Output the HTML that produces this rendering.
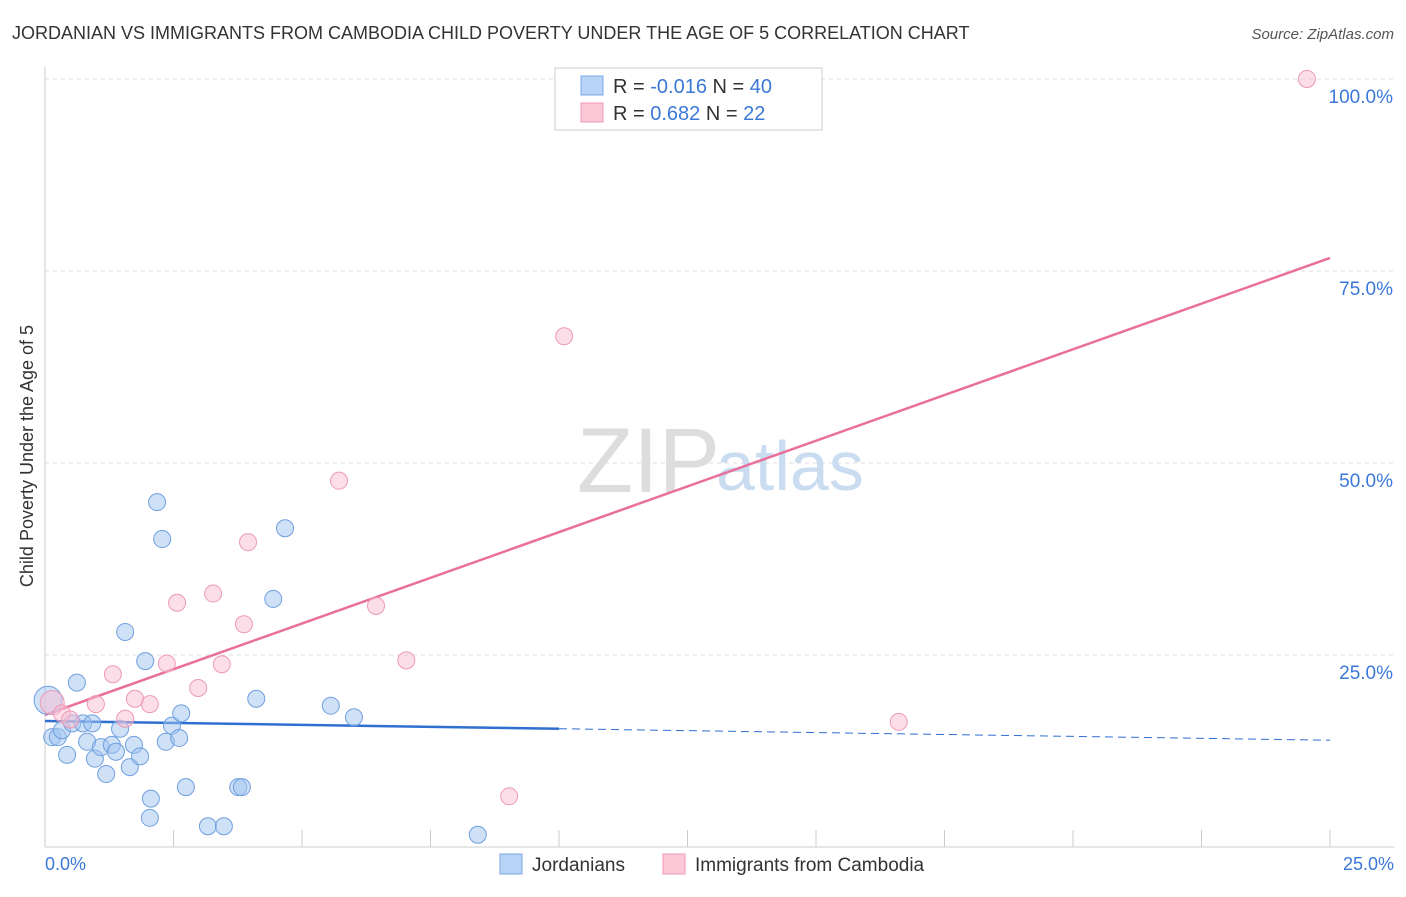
<!DOCTYPE html>
<html><head><meta charset="utf-8"><style>
body{margin:0;background:#fff;font-family:"Liberation Sans",sans-serif}
svg text{font-family:"Liberation Sans",sans-serif}
</style></head><body>
<svg width="1406" height="892" xmlns="http://www.w3.org/2000/svg">
<text x="12" y="39" font-size="18" fill="#333">JORDANIAN VS IMMIGRANTS FROM CAMBODIA CHILD POVERTY UNDER THE AGE OF 5 CORRELATION CHART</text>
<text x="1394" y="39" font-size="15" fill="#555" font-style="italic" text-anchor="end">Source: ZipAtlas.com</text>
<g id="grid"></g>
<text x="720" y="492" font-size="92" fill="#ddd" text-anchor="end" font-family="Liberation Serif">ZIP</text>
<text x="716" y="490" font-size="70" fill="#c9dcf0">atlas</text>
<line x1="45" y1="67" x2="45" y2="847" stroke="#ccc"/>
<line x1="45" y1="847" x2="1394" y2="847" stroke="#ccc"/>
<text x="33" y="456" font-size="18" fill="#333" text-anchor="middle" transform="rotate(-90 33 456)">Child Poverty Under the Age of 5</text>
<text x="45" y="870" font-size="18" fill="#3b78d8">0.0%</text>
<text x="1394" y="870" font-size="18" fill="#3b78d8" text-anchor="end">25.0%</text>
<g id="lines"></g>
<g id="points"></g>
<g>
<rect x="555" y="68" width="267" height="62" fill="#fff" stroke="#ccc"/>
<rect x="581" y="76" width="22" height="19" fill="#b7d3f5" stroke="#7aa8e4"/>
<rect x="581" y="103" width="22" height="19" fill="#fbc8d7" stroke="#ef9ab5"/>
<text x="613" y="93" font-size="20" fill="#333">R = <tspan fill="#3b78d8">-0.016</tspan>   N = <tspan fill="#3b78d8">40</tspan></text>
<text x="613" y="120" font-size="20" fill="#333">R =  <tspan fill="#3b78d8"> 0.682</tspan>   N =  <tspan fill="#3b78d8">22</tspan></text>
</g>
<g>
<rect x="500" y="854" width="22" height="20" fill="#b7d3f5" stroke="#7aa8e4"/>
<text x="532" y="871" font-size="19" fill="#333">Jordanians</text>
<rect x="663" y="854" width="22" height="20" fill="#fbc8d7" stroke="#ef9ab5"/>
<text x="695" y="871" font-size="19" fill="#333">Immigrants from Cambodia</text>
</g>
</svg>
<script>
const yTicks=[25,50,75,100];
const xTickCount=10;
const jorX=[0.06,0.14,0.25,0.33,0.43,0.53,0.62,0.74,0.82,0.92,0.97,1.09,1.19,1.30,1.38,1.46,1.56,1.65,1.73,1.85,1.95,2.06,2.04,2.18,2.28,2.35,2.47,2.61,2.65,2.74,3.17,3.48,3.76,3.83,4.11,4.44,4.67,5.56,6.01,8.42];
const jorY=[19.1,14.3,14.3,15.2,12.0,16.1,21.4,16.1,13.7,16.1,11.5,13.0,9.5,13.3,12.4,15.4,28.0,10.4,13.3,11.8,24.2,6.3,3.8,44.9,40.1,13.7,15.8,14.2,17.4,7.8,2.7,2.7,7.8,7.8,19.3,32.3,41.5,18.4,16.9,1.6];
const camX=[0.14,0.33,0.49,0.99,1.32,1.56,1.75,2.04,2.37,2.57,2.98,3.27,3.44,3.87,3.95,5.72,6.44,7.03,9.03,10.10,16.61,24.55];
const camY=[18.8,17.4,16.6,18.6,22.5,16.7,19.3,18.6,23.9,31.8,20.7,33.0,23.8,29.0,39.7,47.7,31.4,24.3,6.6,66.5,16.3,100];
const jorFit=[16.4,13.9];
const camFit=[17.2,76.7];
const NS="http://www.w3.org/2000/svg";
const xs=v=>45+v*(1285/25);
const ys=v=>847-v*7.68;
function mk(t,a,p){const e=document.createElementNS(NS,t);for(const k in a)e.setAttribute(k,a[k]);document.getElementById(p).appendChild(e);return e;}
yTicks.forEach(t=>{
 const l=mk('line',{x1:45,x2:1394,y1:ys(t),y2:ys(t),stroke:'#ddd','stroke-dasharray':'4,4'},'grid');
 
 
 const tx=mk('text',{x:1393,y:ys(t)+24,'font-size':19,fill:'#3b78d8','text-anchor':'end'},'grid');
 tx.textContent=t.toFixed(1)+'%';
 
 
});
for(let i=1;i<=xTickCount;i++){
 const v=i*2.5;
 const l=mk('line',{x1:xs(v),x2:xs(v),y1:830,y2:847,stroke:'#ccc'},'grid');
 
 
}
const fy=(f,x)=>f[0]+(f[1]-f[0])*x/25;
let l1=mk('line',{x1:xs(0),y1:ys(fy(jorFit,0)),x2:xs(10),y2:ys(fy(jorFit,10)),stroke:'#2f6fd0','stroke-width':2.5},'lines');


let l2=mk('line',{x1:xs(10),y1:ys(fy(jorFit,10)),x2:xs(25),y2:ys(fy(jorFit,25)),stroke:'#2f6fd0','stroke-width':1,'stroke-dasharray':'8,5'},'lines');


let l3=mk('line',{x1:xs(0),y1:ys(fy(camFit,0)),x2:xs(25),y2:ys(fy(camFit,25)),stroke:'#e8709a','stroke-width':2.5},'lines');


jorX.forEach((x,i)=>{
 const c=mk('circle',{cx:xs(x),cy:ys(jorY[i]),r:i==0?14:8.5,fill:'rgba(160,196,240,0.5)',stroke:'#6fa0e0','stroke-width':1},'points');
 
 
});
camX.forEach((x,i)=>{
 const c=mk('circle',{cx:xs(x),cy:ys(camY[i]),r:i==0?12:8.5,fill:'rgba(250,190,210,0.5)',stroke:'#ee9ab6','stroke-width':1},'points');
 
 
});
</script>
</body></html>
